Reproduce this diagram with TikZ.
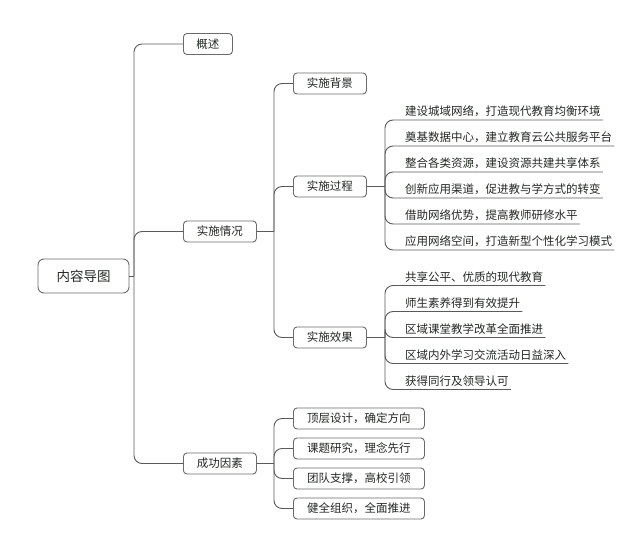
\documentclass[tikz,border=0pt]{standalone}
\usepackage{fontspec}
\setmainfont{Noto Sans CJK SC}
\definecolor{boxgray}{HTML}{6A6A6A}
\definecolor{linegray}{HTML}{5A5A5A}
\definecolor{txt}{HTML}{222822}
\begin{document}
\begin{tikzpicture}[x=1pt,y=-1pt,
  base/.style={draw=boxgray, line width=0.9pt, text=txt, inner sep=0pt, align=center},
  rootbox/.style={base, rounded corners=6pt, minimum width=91pt, minimum height=34pt, font=\fontsize{13.5}{15}\selectfont},
  box/.style={base, rounded corners=3.5pt, minimum height=21pt, anchor=west, font=\fontsize{11.5}{13}\selectfont},
  leaf/.style={anchor=south west, inner xsep=2pt, inner ysep=3pt, text=txt, font=\fontsize{11.5}{13}\selectfont},
  conn/.style={draw=linegray, line width=0.9pt, rounded corners=8pt},
  stub/.style={draw=linegray, line width=0.9pt}]
\useasboundingbox (0,0) rectangle (627,554);
% root
\node[rootbox] (root) at (83.5,276) {内容导图};
\coordinate (j0) at (134,276);
% level 1
\node[box, minimum width=49pt] (gs) at (183,44) {概述};
\node[box, minimum width=73pt] (ss) at (183,231.5) {实施情况};
\node[box, minimum width=73pt] (cg) at (183,463.5) {成功因素};
\draw[stub] (root.east) -- (j0);
\draw[conn] (j0) |- (gs.west);
\draw[conn] (j0) |- (ss.west);
\draw[conn] (j0) |- (cg.west);
% level 2 under 实施情况
\coordinate (j1) at (274,231.5);
\node[box, minimum width=73pt] (bj) at (293,83.5) {实施背景};
\node[box, minimum width=73pt] (gc) at (293,186.5) {实施过程};
\node[box, minimum width=73pt] (xg) at (293,337.5) {实施效果};
\draw[stub] (ss.east) -- (j1);
\draw[conn] (j1) |- (bj.west);
\draw[conn] (j1) |- (gc.west);
\draw[conn] (j1) |- (xg.west);
% 实施过程 leaves
\coordinate (j2) at (385,186.5);
\node[leaf] (p1) at (403,120) {建设城域网络，打造现代教育均衡环境};
\node[leaf] (p2) at (403,146) {奠基数据中心，建立教育云公共服务平台};
\node[leaf] (p3) at (403,172) {整合各类资源，建设资源共建共享体系};
\node[leaf] (p4) at (403,198) {创新应用渠道，促进教与学方式的转变};
\node[leaf] (p5) at (403,224) {借助网络优势，提高教师研修水平};
\node[leaf] (p6) at (403,250) {应用网络空间，打造新型个性化学习模式};
\draw[stub] (gc.east) -- (j2);
\foreach \n in {p1,p2,p3,p4,p5,p6}
  \draw[conn] (j2) |- (\n.south west) -- (\n.south east);
% 实施效果 leaves
\coordinate (j3) at (385,337.5);
\node[leaf] (e1) at (403,285.5) {共享公平、优质的现代教育};
\node[leaf] (e2) at (403,311.5) {师生素养得到有效提升};
\node[leaf] (e3) at (403,337.5) {区域课堂教学改革全面推进};
\node[leaf] (e4) at (403,363.5) {区域内外学习交流活动日益深入};
\node[leaf] (e5) at (403,389.5) {获得同行及领导认可};
\draw[stub] (xg.east) -- (j3);
\foreach \n in {e1,e2,e3,e4,e5}
  \draw[conn] (j3) |- (\n.south west) -- (\n.south east);
% 成功因素 children
\coordinate (j4) at (274,463.5);
\node[box, minimum width=131pt] (f1) at (293,418.5) {顶层设计，确定方向};
\node[box, minimum width=131pt] (f2) at (293,448.5) {课题研究，理念先行};
\node[box, minimum width=131pt] (f3) at (293,478.5) {团队支撑，高校引领};
\node[box, minimum width=131pt] (f4) at (293,508.5) {健全组织，全面推进};
\draw[stub] (cg.east) -- (j4);
\foreach \n in {f1,f2,f3,f4}
  \draw[conn] (j4) |- (\n.west);
\end{tikzpicture}
\end{document}
